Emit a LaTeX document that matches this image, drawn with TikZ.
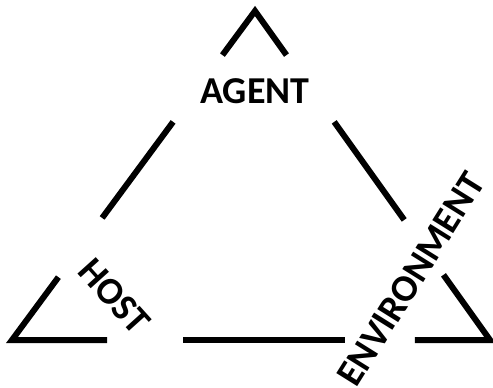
\documentclass[tikz,border=0pt]{standalone}
\usepackage{fontspec}
\setmainfont{Carlito}
\usetikzlibrary{calc}
\begin{document}
\begin{tikzpicture}[x=1pt,y=-1pt,
  edge/.style={line width=6pt, line join=miter, line cap=butt, black},
  lbl/.style={font=\fontsize{38}{38}\selectfont\bfseries, inner sep=0pt}]
\useasboundingbox (0,0) rectangle (493,388);
\coordinate (A) at (255,11);
\coordinate (L) at (12,340);
\coordinate (R) at (490,340);
% corners
\draw[edge] ($(L)!0.866!(A)$) -- (A) -- ($(R)!0.866!(A)$);
\draw[edge] ($(L)!0.191!(A)$) -- (L) -- ($(L)!0.199!(R)$);
\draw[edge] ($(L)!0.843!(R)$) -- (R) -- ($(R)!0.198!(A)$);
% middle pieces
\draw[edge] ($(L)!0.371!(A)$) -- ($(L)!0.663!(A)$);
\draw[edge] ($(R)!0.365!(A)$) -- ($(R)!0.663!(A)$);
\draw[edge] ($(L)!0.358!(R)$) -- ($(L)!0.697!(R)$);
% labels
\node[lbl] (agent) at (255,91) {AGENT};
\node[lbl, rotate=-48] (host) at (114,296) {HOST};
\node[lbl, rotate=58] (env) at (411,279) {ENVIRONMENT};
\end{tikzpicture}
\end{document}
